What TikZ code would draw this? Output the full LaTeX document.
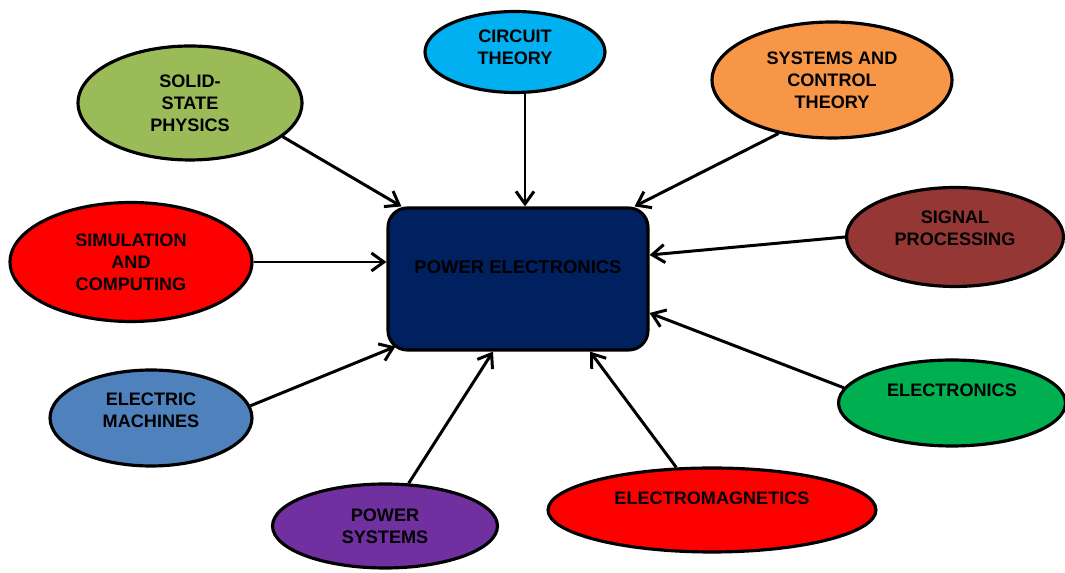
\documentclass[tikz,border=0pt]{standalone}
\usepackage{fontspec}
\setmainfont{Liberation Sans}
\usetikzlibrary{arrows.meta,shapes.geometric}
\definecolor{boxblue}{HTML}{002060}
\definecolor{olive}{HTML}{9BBB59}
\definecolor{skyblue}{HTML}{00B0F0}
\definecolor{orangeish}{HTML}{F79646}
\definecolor{brickred}{HTML}{953735}
\definecolor{steelblue}{HTML}{4F81BD}
\definecolor{leafgreen}{HTML}{00B050}
\definecolor{purplish}{HTML}{7030A0}

\begin{document}
\begin{tikzpicture}[
  x=0.02cm, y=-0.02cm,
  bubble/.style={ellipse, draw=black, line width=1.8pt, inner sep=0pt, align=center,
    font=\fontsize{10.3}{12.5}\selectfont\bfseries},
  corebox/.style={draw=black, line width=1.8pt, rounded corners=11pt, fill=boxblue,
    minimum width=5.2cm, minimum height=2.84cm, font=\fontsize{10.5}{12.5}\selectfont\bfseries},
  arr/.style={-{Straight Barb[length=2.5mm,width=3.6mm]}, line width=1.7pt}
]
\useasboundingbox (0,0) rectangle (1065,573);
\node[corebox, text depth=0.46cm] (pe) at (518,279) {POWER ELECTRONICS};
\node[bubble, fill=olive, minimum width=4.48cm, minimum height=2.28cm] (sol) at (190,103) {SOLID-\\STATE\\PHYSICS};
\node[bubble, fill=skyblue, minimum width=3.6cm, minimum height=1.62cm, text depth=0.18cm] (cir) at (515,52) {CIRCUIT\\THEORY};
\node[bubble, fill=orangeish, minimum width=4.8cm, minimum height=2.32cm] (sys) at (832,80) {SYSTEMS AND\\CONTROL\\THEORY};
\node[bubble, fill=red, minimum width=4.84cm, minimum height=2.38cm] (sim) at (131,262) {SIMULATION\\AND\\COMPUTING};
\node[bubble, fill=brickred, minimum width=4.34cm, minimum height=1.98cm, text depth=0.35cm] (sig) at (955,237) {SIGNAL\\PROCESSING};
\node[bubble, fill=steelblue, minimum width=4.04cm, minimum height=1.92cm, text depth=0.32cm] (mac) at (151,418) {ELECTRIC\\MACHINES};
\node[bubble, fill=leafgreen, minimum width=4.54cm, minimum height=1.72cm, text depth=0.5cm] (ele) at (952,403) {ELECTRONICS};
\node[bubble, fill=purplish, minimum width=4.5cm, minimum height=1.68cm] (pow) at (385,526) {POWER\\SYSTEMS};
\node[bubble, fill=red, minimum width=6.56cm, minimum height=1.68cm, text depth=0.46cm] (emg) at (712,510) {ELECTROMAGNETICS};
% arrows into the centre box
\draw[arr] (sol.-20) -- ([xshift=0.3cm]pe.north west);
\draw[arr] ([xshift=0.2cm]cir.south) -- ([xshift=0.2cm]cir.south |- pe.north);
\draw[arr] (sys.225) -- ([xshift=-0.3cm]pe.north east);
\draw[arr] (sim.east) -- (sim.east -| pe.west);
\draw[arr] (sig.west) -- ([yshift=0.48cm]pe.east);
\draw[arr] (ele.172) -- ([yshift=-0.68cm]pe.east);
\draw[arr] (mac.7.5) -- ([xshift=0.18cm,yshift=0.1cm]pe.south west);
\draw[arr] (pow.61) -- ([xshift=-0.5cm]pe.south);
\draw[arr] (emg.130) -- ([xshift=1.44cm]pe.south);
\end{tikzpicture}
\end{document}
